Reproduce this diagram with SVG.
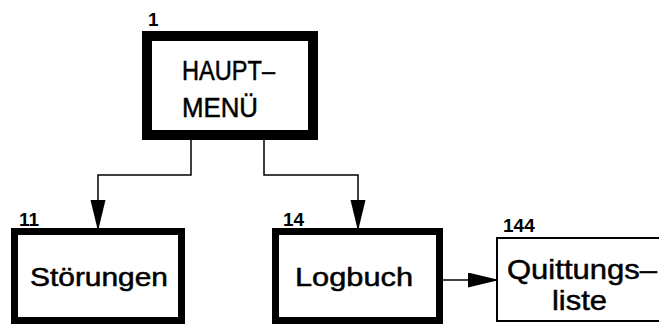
<svg xmlns="http://www.w3.org/2000/svg" width="659" height="324" viewBox="0 0 659 324">
<style>
.box{fill:#fff;stroke:#000}
.t{font-family:"Liberation Sans",Arial,sans-serif;fill:#000;stroke:#000;stroke-width:0.5}
.lbl{font-family:"Liberation Sans",Arial,sans-serif;font-size:19px;fill:#000;font-weight:bold}
.c{fill:none;stroke:#000;stroke-width:1.5}
</style>
<defs>
<marker id="ah" markerUnits="userSpaceOnUse" markerWidth="30" markerHeight="16" refX="29" refY="7.5" orient="auto">
<path d="M0,0 L29,7 L29,8 L0,15 Z" fill="#000"/>
</marker>
</defs>
<rect width="659" height="324" fill="#fff"/>
<g id="connectors">
<path class="c" d="M191,140 V175 H98 V229" marker-end="url(#ah)"/>
<path class="c" d="M264,140 V175 H358 V229" marker-end="url(#ah)"/>
<path class="c" d="M443,280 H497" marker-end="url(#ah)"/>
</g>
<g id="n1">
<rect class="box" x="147" y="36" width="166" height="99" stroke-width="10"/>
<text class="lbl" x="148" y="26">1</text>
<text class="t" x="182" y="80" font-size="27" textLength="93" lengthAdjust="spacingAndGlyphs">HAUPT–</text>
<text class="t" x="182" y="117" font-size="27" textLength="76" lengthAdjust="spacingAndGlyphs">MENÜ</text>
</g>
<g id="n11">
<rect class="box" x="14.5" y="231.5" width="167" height="89" stroke-width="7"/>
<text class="lbl" x="19" y="226">11</text>
<text class="t" x="30" y="286" font-size="25" textLength="138" lengthAdjust="spacingAndGlyphs">Störungen</text>
</g>
<g id="n14">
<rect class="box" x="275.5" y="231.5" width="164" height="89" stroke-width="7"/>
<text class="lbl" x="283" y="226">14</text>
<text class="t" x="295" y="286" font-size="26" textLength="118" lengthAdjust="spacingAndGlyphs">Logbuch</text>
</g>
<g id="n144">
<rect class="box" x="497" y="238" width="180" height="83" stroke-width="2"/>
<text class="lbl" x="503" y="232">144</text>
<text class="t" x="507" y="279" font-size="28" textLength="150" lengthAdjust="spacingAndGlyphs">Quittungs–</text>
<text class="t" x="552" y="310" font-size="28" textLength="55" lengthAdjust="spacingAndGlyphs">liste</text>
</g>
</svg>
